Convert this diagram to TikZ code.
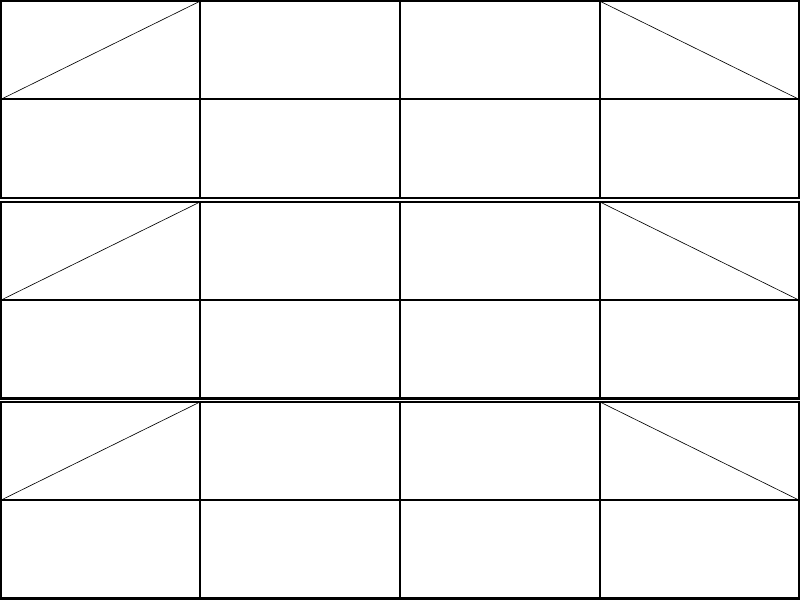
\documentclass[tikz,border=0pt]{standalone}
\begin{document}
\begin{tikzpicture}[x=0.025cm, y=-0.025cm,
                cellline/.style={line width=1.7pt},
                slant/.style={line width=0.45pt}]
                \useasboundingbox (0,0) rectangle (800,600);
                
                \foreach \t in {1.2,202,402}{
                    \draw [cellline] (1.2, \t) rectangle (798.8, \t + 196.5);
                    \draw [cellline] (1.2, \t + 98) -- (798.8, \t + 98);
                    \foreach \x in {200,400,600}{
                        \draw [cellline] (\x, \t) -- (\x, \t + 196.5);
                    }
                    \draw [slant] (1.2, \t + 98) -- (200, \t);
                    \draw [slant] (600, \t) -- (798.8, \t + 98);
                }
                
\end{tikzpicture}
\end{document}
